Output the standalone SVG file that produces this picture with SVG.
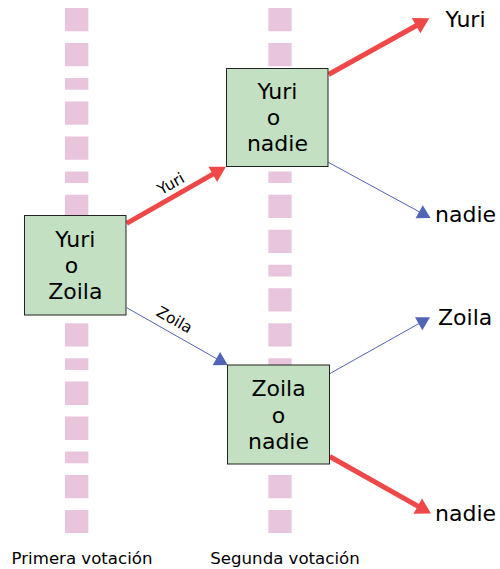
<svg xmlns="http://www.w3.org/2000/svg" width="500" height="569" viewBox="0 0 500 569">
<style>
text{font-family:"DejaVu Sans","Liberation Sans",sans-serif;fill:#000}
.box{fill:#c3e0c3;stroke:#222;stroke-width:1}
.bt{font-size:22px;text-anchor:middle}
.lab{font-size:22px}
.el{font-size:15.5px;text-anchor:middle}
.ax{font-size:16.6px;text-anchor:middle}
.guide{stroke:#e9c4dd;stroke-width:23.3;stroke-dasharray:23.3 11.7 23.3 11.7 11.7 11.7;fill:none}
.red{stroke:#ef4848;stroke-width:5;fill:none;marker-end:url(#mr)}
.blue{stroke:#5065b5;stroke-width:1;fill:none;marker-end:url(#mb)}
</style>
<defs>
<marker id="mr" markerUnits="userSpaceOnUse" viewBox="-6 -9 17 18" markerWidth="17" markerHeight="18" refX="0" refY="0" orient="auto" overflow="visible">
<path d="M10,0 L-5.2,-8.75 L-5.2,8.75 Z" fill="#ef4848"/>
</marker>
<marker id="mb" markerUnits="userSpaceOnUse" viewBox="-4 -8 15 16" markerWidth="15" markerHeight="16" refX="0" refY="0" orient="auto" overflow="visible">
<path d="M10,0 L-3,-7.5 L-3,7.5 Z" fill="#5065b5"/>
</marker>
</defs>
<g id="guides">
<line class="guide" x1="76.7" y1="8" x2="76.7" y2="533"/>
<line class="guide" x1="280" y1="8" x2="280" y2="533"/>
</g>
<g id="connectors">
<path class="red" d="M126.7,223.3 L217.3,171.7"/>
<path class="red" d="M328.5,74.5 L420.6,23.2"/>
<path class="red" d="M329.7,456.5 L422.3,508.6"/>
<path class="blue" d="M328.3,162.3 L421.8,213.2"/>
<path class="blue" d="M126.7,307.7 L219,360.1"/>
<path class="blue" d="M330,373.5 L421.3,322.2"/>
<text class="el" transform="translate(171,184) rotate(-29.7)" y="5">Yuri</text>
<text class="el" transform="translate(174.3,320) rotate(29.6)" y="5">Zoila</text>
</g>
<g id="n1">
<rect class="box" x="24.5" y="215.5" width="101.5" height="99.5"/>
<text class="bt" x="75.3" y="246.7">Yuri</text>
<text class="bt" x="71.5" y="272.7">o</text>
<text class="bt" x="75.3" y="299.3">Zoila</text>
</g>
<g id="n2">
<rect class="box" x="226.5" y="68.5" width="101.5" height="98"/>
<text class="bt" x="277.4" y="99.3">Yuri</text>
<text class="bt" x="273.6" y="125.3">o</text>
<text class="bt" x="277.4" y="151.3">nadie</text>
</g>
<g id="n3">
<rect class="box" x="227.5" y="365" width="102" height="99"/>
<text class="bt" x="278.5" y="396">Zoila</text>
<text class="bt" x="278.5" y="422.7">o</text>
<text class="bt" x="278.5" y="449">nadie</text>
</g>
<g id="outcomes">
<text class="lab" x="445.5" y="26.7">Yuri</text>
<text class="lab" x="435" y="221.7">nadie</text>
<text class="lab" x="438" y="325.3">Zoila</text>
<text class="lab" x="435" y="520.7">nadie</text>
</g>
<g id="axis">
<text class="ax" x="82" y="564">Primera votación</text>
<text class="ax" x="285" y="564">Segunda votación</text>
</g>
</svg>
